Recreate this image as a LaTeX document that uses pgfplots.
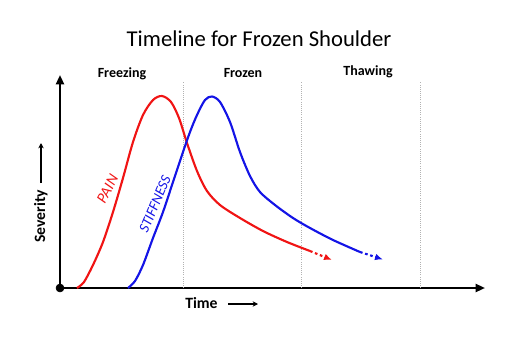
\documentclass[border=0pt]{standalone}
\usepackage{pgfplots}
\pgfplotsset{compat=1.18}
\usepackage{fontspec}
\setmainfont{Carlito}
\usetikzlibrary{arrows.meta}
\definecolor{pred}{RGB}{240,20,20}
\definecolor{sblue}{RGB}{20,20,230}
\begin{document}
\begin{tikzpicture}
\begin{axis}[
  scale only axis,
  width=318.75pt, height=159.75pt,
  at={(45pt,36.75pt)}, anchor=south west,
  xmin=0, xmax=425, ymin=0, ymax=213,
  axis lines=left,
  axis line style={line width=1.6pt, -{Triangle[length=7pt,width=6pt]}},
  xtick=\empty, ytick=\empty,
  clip=false,
]
% phase separators
\addplot[gray!60, densely dotted, line width=0.6pt] coordinates {(123,0) (123,206)};
\addplot[gray!60, densely dotted, line width=0.6pt] coordinates {(241,0) (241,206)};
\addplot[gray!60, densely dotted, line width=0.6pt] coordinates {(360,0) (360,206)};
% pain
\addplot[pred, line width=1.6pt, smooth, tension=0.5] coordinates {
 (17,0)(24,6)(33,23)(43,46)(53,76)(63,110)(73,146)(83,173)(93,188)(102,192)
 (111,186)(119,170)(127,145)(137,117)(147,97)(160,83)(180,70)(203,57)(227,46)(250,37)};
\addplot[pred, line width=1.6pt, dash pattern=on 2pt off 2pt, -{Latex[length=6pt,width=5pt]}] coordinates {(250,37) (272,28)};
% stiffness
\addplot[sblue, line width=1.6pt, smooth, tension=0.5] coordinates {
 (68,0)(75,7)(83,23)(93,50)(103,76)(113,106)(123,136)(130,156)(137,173)(145,188)
 (152,191.5)(160,186)(170,166)(180,136)(190,112)(200,96)(215,83)(233,70)(250,60)
 (273,48)(300,36)};
\addplot[sblue, line width=1.6pt, dash pattern=on 2pt off 2pt, -{Latex[length=6pt,width=5pt]}] coordinates {(300,36) (323,28.5)};
% origin dot
\addplot[only marks, mark=*, mark size=3pt, black] coordinates {(0,0)};
% texts
\node[anchor=base, font=\fontsize{17}{20}\selectfont] at (axis cs:199,242) {Timeline for Frozen Shoulder};
\node[anchor=base, font=\fontsize{10.5}{12}\selectfont\bfseries] at (axis cs:62,211) {Freezing};
\node[anchor=base, font=\fontsize{10.5}{12}\selectfont\bfseries] at (axis cs:183,211) {Frozen};
\node[anchor=base, font=\fontsize{10.5}{12}\selectfont\bfseries] at (axis cs:308,213) {Thawing};
\node[anchor=base west, inner sep=0pt, font=\fontsize{11.8}{14}\selectfont\bfseries] at (axis cs:125,-20) {Time};
\draw[line width=0.9pt, -{Stealth[length=4pt,width=4pt]}] (axis cs:168,-16) -- (axis cs:198,-16);
\node[anchor=base west, inner sep=0pt, rotate=90, font=\fontsize{11.8}{14}\selectfont\bfseries] at (axis cs:-15,45) {Severity};
\draw[line width=0.9pt, -{Stealth[length=4pt,width=4pt]}] (axis cs:-19,105) -- (axis cs:-19,145);
\node[pred, rotate=62, inner sep=1pt, font=\fontsize{11.5}{13}\selectfont\itshape] at (axis cs:47.5,99) {PAIN};
\node[sblue, rotate=67, inner sep=1pt, font=\fontsize{11}{13}\selectfont\itshape] at (axis cs:95,84) {STIFFNESS};
\end{axis}
\pgfresetboundingbox
\path (0,0) rectangle (384pt,252.75pt);
\end{tikzpicture}
\end{document}
